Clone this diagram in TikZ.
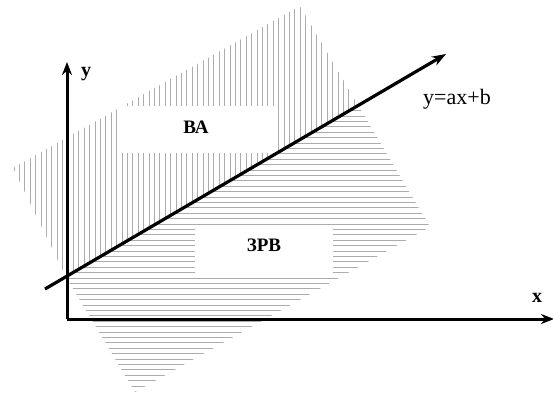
\documentclass[tikz,border=0pt]{standalone}
\usepackage{fontspec}
\setmainfont{Liberation Serif}
\usetikzlibrary{arrows.meta}

\tikzset{
  hatch/.style={gray!65,line width=1pt},
  axis/.style={line width=3pt,-{Stealth[length=13pt,width=10pt]}},
  regionbox/.style={fill=white,inner sep=0pt,font=\fontsize{19}{20}\selectfont\bfseries}
}

\begin{document}
\begin{tikzpicture}[x=1pt,y=-1pt]
  \useasboundingbox (0,0) rectangle (553,396);

  % upper region, vertical hatching
  \begin{scope}
    \clip (13,168) -- (300,6) -- (358,105) -- (66,277) -- cycle;
    \foreach \x in {14,19.4,...,362} {
      \draw[hatch] (\x,0) -- (\x,290);
    }
  \end{scope}
  % lower region, horizontal hatching
  \begin{scope}
    \clip (66,277) -- (358,105) -- (430,227) -- (135,392) -- cycle;
    \foreach \y in {391.5,386.1,...,100} {
      \draw[hatch] (60,\y) -- (440,\y);
    }
  \end{scope}

  \node[regionbox,minimum width=158pt,minimum height=47pt,text depth=5pt] (va) at (196,129.5) {ВА};
  \node[regionbox,minimum width=138pt,minimum height=46pt,text depth=9pt] (zrv) at (264,250) {ЗРВ};

  % axes
  \coordinate (O) at (67,319);
  \coordinate (xend) at (554,319);
  \coordinate (yend) at (67,62);
  \draw[axis] (O) -- (xend);
  \draw[axis] (O) -- (yend);
  \node[font=\fontsize{20}{22}\selectfont\bfseries] (xlab) at (537,298) {x};
  \node[font=\fontsize{20}{22}\selectfont\bfseries] (ylab) at (86,74) {y};

  % the line y=ax+b
  \coordinate (lstart) at (45,289);
  \coordinate (lend) at (446,54);
  \draw[line width=3.2pt,-{Stealth[length=14pt,width=10pt]}] (lstart) -- (lend);
  \node[font=\fontsize{22}{24}\selectfont] (eq) at (457,99) {y=ax+b};
\end{tikzpicture}
\end{document}
